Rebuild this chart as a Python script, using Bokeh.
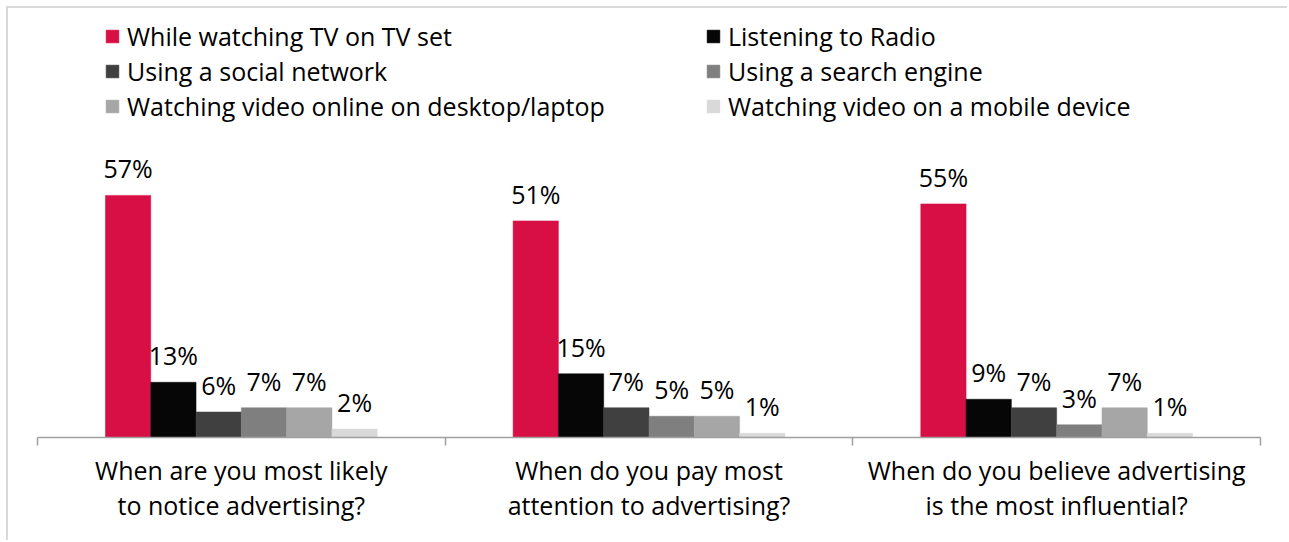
from bokeh.plotting import figure
from bokeh.models import (Range1d, ColumnDataSource, Legend, LegendItem,
                          LinearAxis, FixedTicker, CustomJSTickFormatter)
from bokeh.transform import dodge
from bokeh.core.properties import value
from bokeh.embed import file_html
from bokeh.resources import INLINE

categories = ["When are you most likely\nto notice advertising?",
              "When do you pay most\nattention to advertising?",
              "When do you believe advertising\nis the most influential?"]
series_names = ["While watching TV on TV set", "Listening to Radio",
                "Using a social network", "Using a search engine",
                "Watching video online on desktop/laptop", "Watching video on a mobile device"]
tv_set = [57, 51, 55]
radio = [13, 15, 9]
social = [6, 7, 7]
search = [7, 5, 3]
video_desktop = [7, 5, 7]
video_mobile = [2, 1, 1]
series_values = [tv_set, radio, social, search, video_desktop, video_mobile]
colors = ["#D80F45", "#060606", "#404040", "#7F7F7F", "#A6A6A6", "#D9D9D9"]

FONT = "Open Sans"
FS = "25px"

ncat = len(categories)
centers = [k + 0.5 for k in range(ncat)]

p = figure(width=1281, height=534, x_range=Range1d(0, ncat),
           y_range=Range1d(0, 101), output_backend="svg", toolbar_location=None,
           x_axis_location=None, y_axis_location=None,
           min_border_left=29, min_border_right=29, min_border_top=0, min_border_bottom=105)
p.styles = {"border-top": "2px solid #d9d9d9", "border-left": "2px solid #d9d9d9",
            "margin-left": "6px", "margin-top": "6px"}
p.grid.visible = False
p.outline_line_color = None

n = len(series_values)
w = 0.6667 / n
renderers = []
for i, (vals, col) in enumerate(zip(series_values, colors)):
    src = ColumnDataSource(dict(x=centers, top=vals, lab=[f"{v}%" for v in vals]))
    off = (i - (n - 1) / 2) * w
    r = p.vbar(x=dodge("x", off), top="top", width=w, source=src,
               fill_color=col, line_color=col, line_width=0.5)
    renderers.append(r)
    p.text(x=dodge("x", off), y="top", text="lab", source=src,
           text_align="center", text_baseline="alphabetic", y_offset=-27,
           text_font=value(FONT), text_font_size=FS, text_color="#000000")

# boundary ticks axis
edge_axis = LinearAxis(ticker=FixedTicker(ticks=list(range(ncat + 1))),
                       formatter=CustomJSTickFormatter(code="return ''"),
                       major_tick_in=0, major_tick_out=8, minor_tick_line_color=None,
                       axis_line_color="#A0A0A0", axis_line_width=1.5,
                       major_tick_line_color="#A0A0A0", major_tick_line_width=1.5,
                       major_label_standoff=0)
p.add_layout(edge_axis, "below")

cat_axis = LinearAxis(ticker=FixedTicker(ticks=centers, minor_ticks=[]),
                      major_label_overrides={c: lab for c, lab in zip(centers, categories)},
                      axis_line_color=None, major_tick_line_color=None, minor_tick_line_color=None,
                      major_label_standoff=1,
                      major_label_text_font=FONT, major_label_text_font_size=FS,
                      major_label_text_color="#000000", major_label_text_line_height=1.03)
p.add_layout(cat_axis, "below")

left_idx = [0, 2, 4]
right_idx = [1, 3, 5]
for idx, loc in ((left_idx, (67, 314)), (right_idx, (668, 314))):
    lg = Legend(items=[LegendItem(label=series_names[k], renderers=[renderers[k]]) for k in idx],
                location=loc, orientation="vertical", padding=0, margin=0, spacing=0,
                glyph_width=16, glyph_height=16, label_standoff=7, label_height=35,
                border_line_color=None, background_fill_alpha=0,
                label_text_font=FONT, label_text_font_size=FS, label_text_color="#000000")
    p.add_layout(lg, "center")

open("out.html", "w").write(file_html(p, INLINE))
